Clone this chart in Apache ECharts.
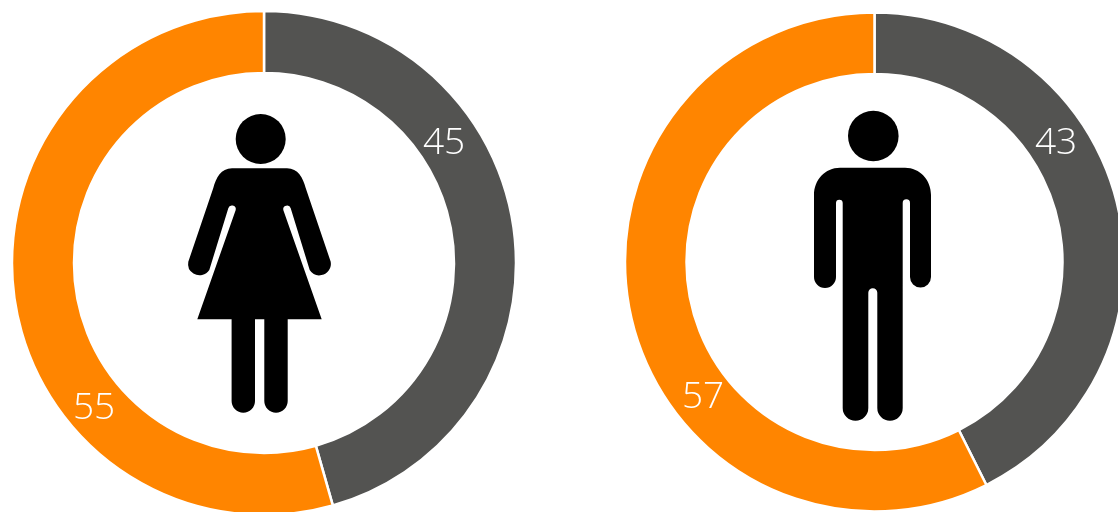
<!DOCTYPE html>
<html>
<head>
<meta charset="utf-8">
<title>Gender split</title>
<script src="https://cdn.jsdelivr.net/npm/echarts@6/dist/echarts.min.js"></script>
<style>
  html, body { margin: 0; padding: 0; background: #fff; }
  #main { width: 1118px; height: 512px; }
</style>
</head>
<body>
<div id="main"></div>
<script>
const categories = ['grey', 'orange'];
const femaleValues = [45.6, 54.4];
const maleValues = [42.6, 57.4];
const femaleLabels = ['45', '55'];
const maleLabels = ['43', '57'];

const sliceColors = ['#535351', '#ff8500'];

// the numbers sit away from the slice middle in the original
const femaleLabelPos = [[444, 143], [94, 408]];
const maleLabelPos = [[1056, 143], [703, 397]];

const femaleIcon = 'M232 168.3 L287 168.3 C298 168.3 303 178 305.7 188 L330.7 261.7 A11.5 11.5 0 0 1 309.7 270 L290.7 208.3 A3.8 3.8 0 0 0 283.3 210 L321.7 319.3 L287.7 319.3 L287.7 401 A11.7 11.7 0 0 1 264.3 401 L264.3 319.3 L255 319.3 L255 401 A11.7 11.7 0 0 1 231.6 401 L231.6 319.3 L197.3 319.3 L235.7 210 A3.8 3.8 0 0 0 228.3 208.3 L209.3 270 A11.5 11.5 0 0 1 188.3 261.7 L213.3 188 C216 178 221 168.3 232 168.3 Z';
const maleIcon = 'M840 167.7 L905 167.7 C920 167.7 931 180 931 195 L931 277 A10.5 10.5 0 0 1 910 277 L910 203 A3.65 3.65 0 0 0 902.7 203 L902.7 408 A12.7 12.7 0 0 1 877.3 408 L877.3 292.8 A4.5 4.5 0 0 0 868.3 292.8 L868.3 408 A12.8 12.8 0 0 1 842.7 408 L842.7 203 A3.35 3.35 0 0 0 836 203 L836 277 A11 11 0 0 1 814 277 L814 195 C814 180 825 167.7 840 167.7 Z';

// graphic component has no plain path type, so register the two figures as shapes
echarts.graphic.registerShape('femaleIcon', echarts.graphic.extendPath(femaleIcon, {}));
echarts.graphic.registerShape('maleIcon', echarts.graphic.extendPath(maleIcon, {}));

function ring(values, labels, labelPos, center, radius) {
  return {
    type: 'pie',
    center: center,
    radius: radius,
    startAngle: 90,
    clockwise: true,
    silent: true,
    animation: false,
    data: categories.map((name, i) => ({
      name: name,
      value: values[i],
      itemStyle: { color: sliceColors[i], borderColor: '#fff', borderWidth: 2.5 },
      label: { formatter: labels[i] }
    })),
    label: {
      show: true,
      position: 'inside',
      color: '#fff',
      fontFamily: '"Open Sans", sans-serif',
      fontWeight: 350,
      fontSize: 37
    },
    labelLine: { show: false },
    labelLayout: params => ({
      x: labelPos[params.dataIndex][0],
      y: labelPos[params.dataIndex][1],
      align: 'center',
      verticalAlign: 'middle'
    })
  };
}

const chart = echarts.init(document.getElementById('main'), null, { renderer: 'canvas' });
chart.setOption({
  animation: false,
  backgroundColor: '#fff',
  series: [
    ring(femaleValues, femaleLabels, femaleLabelPos, [264, 263], [190, 252]),
    ring(maleValues, maleLabels, maleLabelPos, [874.5, 262], [188, 249.5])
  ],
  graphic: [
    { type: 'circle', shape: { cx: 260.7, cy: 139, r: 25 }, style: { fill: '#000' } },
    { type: 'femaleIcon', style: { fill: '#000' } },
    { type: 'circle', shape: { cx: 873.3, cy: 136, r: 25.3 }, style: { fill: '#000' } },
    { type: 'maleIcon', style: { fill: '#000' } }
  ]
});
</script>
</body>
</html>
